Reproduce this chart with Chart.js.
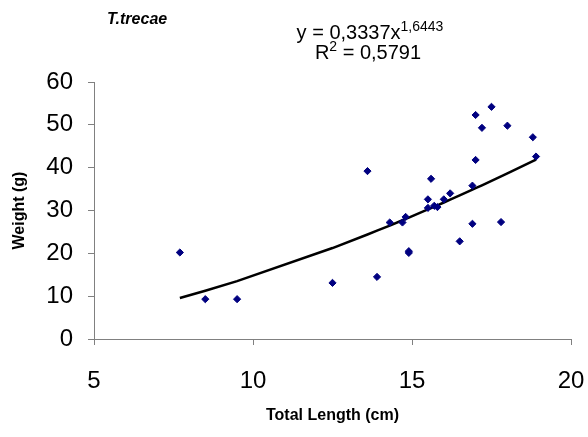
<!DOCTYPE html>
<html><head><meta charset="utf-8">
<script src="https://cdn.jsdelivr.net/npm/chart.js@4.4.1/dist/chart.umd.min.js"></script>
<style>html,body{margin:0;padding:0;background:#fff}#wrap{width:588px;height:437px}</style>
</head><body><div id="wrap"><canvas id="c" width="588" height="437"></canvas></div>
<script>
const lengths = [7.7, 8.5, 9.5, 12.5, 13.6, 13.9, 14.3, 14.7, 14.8, 14.9, 14.9, 15.5, 15.5, 15.6, 15.7, 15.8, 16.0, 16.2, 16.5, 16.9, 16.9, 17.0, 17.0, 17.2, 17.5, 17.8, 18.0, 18.8, 18.9];
const weights = [20.2, 9.3, 9.3, 13.1, 39.2, 14.5, 27.2, 27.2, 28.5, 20.5, 20.1, 32.6, 30.6, 37.4, 31.1, 30.8, 32.6, 34.0, 22.8, 35.8, 26.9, 41.8, 52.3, 49.3, 54.2, 27.3, 49.8, 47.1, 42.6];
const fitA = 0.3337, fitB = 1.6443;
const titleText = 'T.trecae';
const xTitle = 'Total Length (cm)';
const yTitle = 'Weight (g)';

const pts = lengths.map((x, i) => ({x, y: weights[i]}));
const sortedX = [...lengths].sort((a, b) => a - b);
const trend = sortedX.map(x => ({x, y: fitA * Math.pow(x, fitB)}));

const FAM = '"Liberation Sans", Arial, sans-serif';
const textPlugin = {
  id: 'texts',
  afterDraw(chart) {
    const ctx = chart.ctx;
    ctx.save();
    ctx.fillStyle = '#000';
    ctx.textBaseline = 'alphabetic';
    ctx.font = 'bold italic 16px ' + FAM;
    ctx.textAlign = 'left';
    ctx.fillText(titleText, 107, 24);
    const f = '20px ' + FAM;
    const fs = '14px ' + FAM;
    function supText(parts, cx, y) {
      let w = 0;
      parts.forEach(p => { ctx.font = p[1] ? fs : f; w += ctx.measureText(p[0]).width; });
      let x = cx - w / 2;
      parts.forEach(p => {
        ctx.font = p[1] ? fs : f;
        ctx.fillText(p[0], x, p[1] ? y - 8 : y);
        x += ctx.measureText(p[0]).width;
      });
    }
    supText([['y = 0,3337x', false], ['1,6443', true]], 370, 39);
    supText([['R', false], ['2', true], [' = 0,5791', false]], 368, 59);
    ctx.restore();
  }
};

new Chart(document.getElementById('c'), {
  type: 'scatter',
  data: {
    datasets: [
      {
        data: trend, type: 'line', showLine: true, borderColor: '#000', borderWidth: 2.5,
        pointRadius: 0, fill: false, tension: 0, order: 2
      },
      {
        data: pts, pointStyle: 'rectRot', pointRadius: 3.6, pointBackgroundColor: '#000080',
        pointBorderColor: '#000080', pointBorderWidth: 1, order: 1
      }
    ]
  },
  options: {
    responsive: false, animation: false, devicePixelRatio: 1,
    layout: { padding: { top: 82, right: 17, left: 10, bottom: 12 } },
    plugins: { legend: { display: false }, tooltip: { enabled: false } },
    scales: {
      x: {
        type: 'linear', min: 5, max: 20,
        ticks: { stepSize: 5, color: '#000', font: { size: 24, family: FAM }, padding: 22 },
        grid: { drawOnChartArea: false, color: '#808080', tickLength: 6, tickColor: '#808080' },
        border: { color: '#808080', width: 1 },
        title: { display: true, text: xTitle, color: '#000', font: { size: 16, weight: 'bold', family: FAM }, padding: 0 },
        afterFit(s) { s.height = 86; s.paddingLeft = 0; s.paddingRight = 0; }
      },
      y: {
        type: 'linear', min: 0, max: 60,
        ticks: { stepSize: 10, color: '#000', font: { size: 24, family: FAM }, padding: 15 },
        grid: { drawOnChartArea: false, color: '#808080', tickLength: 6, tickColor: '#808080' },
        border: { color: '#808080', width: 1 },
        title: { display: true, text: yTitle, color: '#000', font: { size: 16, weight: 'bold', family: FAM }, padding: 0 },
        afterFit(s) { s.width = 84; s.paddingTop = 0; s.paddingBottom = 0; }
      }
    }
  },
  plugins: [textPlugin]
});
</script></body></html>
